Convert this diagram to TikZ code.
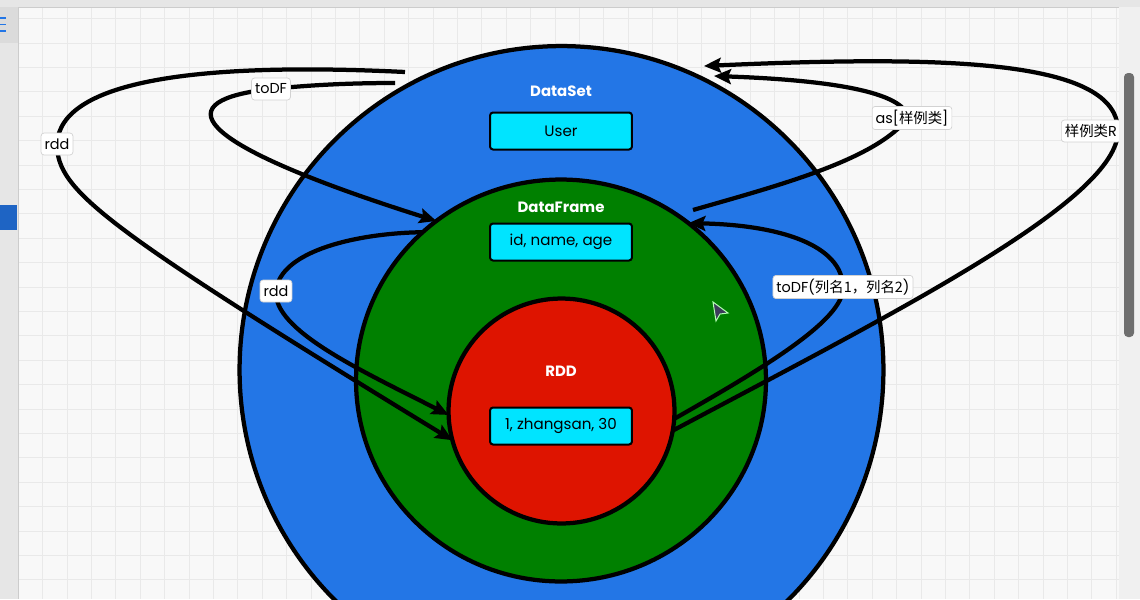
\documentclass[tikz,border=0pt]{standalone}
\usepackage{fontspec}
\setmainfont{Poppins}
\newfontfamily\cjk{Noto Sans CJK SC}
\usetikzlibrary{calc,arrows.meta,positioning,shapes.geometric}
\definecolor{dsblue}{RGB}{35,118,230}
\definecolor{dfgreen}{RGB}{0,128,0}
\definecolor{rddred}{RGB}{222,20,0}
\definecolor{rowcyan}{RGB}{0,228,255}
\definecolor{canvas}{RGB}{248,248,248}
\definecolor{gridgray}{RGB}{233,233,233}
\definecolor{panelgray}{RGB}{230,230,230}
\definecolor{thumbgray}{RGB}{110,110,110}
\definecolor{cursorgray}{RGB}{60,60,90}

\begin{document}
\begin{tikzpicture}[x=0.02cm, y=-0.02cm,
    every node/.style={font=\fontsize{8.6}{10}\selectfont},
    layer/.style={ellipse, draw=black, line width=0.085cm, inner sep=0pt, outer sep=0pt},
    rowbox/.style={draw=black, line width=0.04cm, fill=rowcyan, rounded corners=0.06cm,
      minimum width=2.84cm, minimum height=0.74cm, inner sep=0pt},
    title/.style={text=white, font=\fontsize{8.5}{10}\selectfont\bfseries},
    lbl/.style={fill=white, draw=gray!35, rounded corners=0.06cm, inner sep=2pt,
      minimum height=0.44cm, font=\fontsize{8.2}{9}\selectfont},
    arr/.style={line width=0.085cm, -{Stealth[length=0.34cm, width=0.3cm, inset=0.06cm]}},
    gridline/.style={gridgray, line width=0.02cm}]
  \useasboundingbox (0,0) rectangle (1140,599);
  \clip (0,0) rectangle (1140,599);
  \fill[canvas] (0,0) rectangle (1140,599);
  \foreach \gx in {0,...,46} \draw[gridline] ({18.3+24.4*\gx},0) -- ++(0,599);
  \foreach \gy in {0,...,24} \draw[gridline] (0,{18.6+24.4*\gy}) -- ++(1140,0);
  \fill[panelgray] (0,0) rectangle (1140,7);
  \draw[gray!40] (0,7) -- (1140,7);
  \fill[panelgray] (0,7) rectangle (18,599);
  \fill[gray!28] (0,7) rectangle (18,43);
  \draw[gray!40] (18,7) -- (18,599);
  \draw[dsblue, line width=0.03cm] (0,18) -- (6,18) (0,24.5) -- (6,24.5) (0,31) -- (6,31);
  \fill[dsblue!85!black] (0,205) rectangle (17,230);

  \node[layer, fill=dsblue, minimum width=12.88cm, minimum height=12.96cm] (dataset) at (561.5,370) {};
  \node[layer, fill=dfgreen, minimum width=8.2cm, minimum height=8.04cm] (dataframe) at (561,380.5) {};
  \node[layer, fill=rddred, minimum width=4.52cm, minimum height=4.5cm] (rdd) at (561.5,411) {};
  \node[title] (dstitle) at (561,91) {DataSet};
  \node[rowbox] (dsrow) at (561,131) {User};
  \node[title] (dftitle) at (561,207) {DataFrame};
  \node[rowbox] (dfrow) at (561,242) {id, name, age};
  \node[title] (rddtitle) at (561,371) {RDD};
  \node[rowbox] (rddrow) at (561,426) {1, zhangsan, 30};

  \coordinate (dsoutA) at (405,72);
  \coordinate (dsoutB) at (395,83);
  \coordinate (asfrom) at (693,210);
  \coordinate (dsinD) at (714,76);
  \coordinate (dsinE) at (704,66);
  \coordinate (rddA) at (57,144);
  \coordinate (todfB) at (271,89);
  \coordinate (rddC) at (276,291);
  \coordinate (asD) at (908,118);
  \coordinate (clsE) at (1118,131);
  \coordinate (todfF) at (843,287);

  \draw[arr] (dsoutA) .. controls (200,62) and (60,80) .. (rddA)
    .. controls (57,190) and (100,225) .. (rdd.195);
  \draw[arr] (dsoutB) .. controls (340,83) and (300,86) .. (todfB)
    .. controls (170,100) and (180,140) .. (dataframe.128);
  \draw[arr] (dataframe.133) .. controls (360,233) and (280,250) .. (rddC)
    .. controls (273,330) and (360,370) .. (rdd.182);
  \draw[arr] (asfrom) .. controls (780,185) and (875,160) .. (asD)
    .. controls (905,92) and (830,80) .. (dsinD);
  \draw[arr] (rdd.-10) .. controls (900,310) and (1118,200) .. (clsE)
    .. controls (1118,60) and (950,55) .. (dsinE);
  \draw[arr] (rdd.-4) .. controls (760,370) and (845,320) .. (todfF)
    .. controls (842,245) and (780,225) .. (dataframe.51);

  \node[lbl] (lrddout) at (rddA) {rdd};
  \node[lbl] (ltodfout) at (todfB) {toDF};
  \node[lbl] (lrddin) at (rddC) {rdd};
  \node[lbl] (las) at (912,118) {as[{\cjk 样例类}]};
  \node[lbl] (ltodfin) at (todfF) {toDF({\cjk 列名1，列名2})};
  \node[lbl, anchor=west] (lcls) at (1061,131) {{\cjk 样例类}R};

  \filldraw[fill=cursorgray, draw=green!30!white, line width=0.02cm]
    (713,302) -- (728,313) -- (720,314) -- (716,321) -- cycle;
  \fill[gray!12] (1119,7) rectangle (1140,599);
  \fill[thumbgray, rounded corners=0.08cm] (1124,73) rectangle (1134,337);
\end{tikzpicture}
\end{document}
